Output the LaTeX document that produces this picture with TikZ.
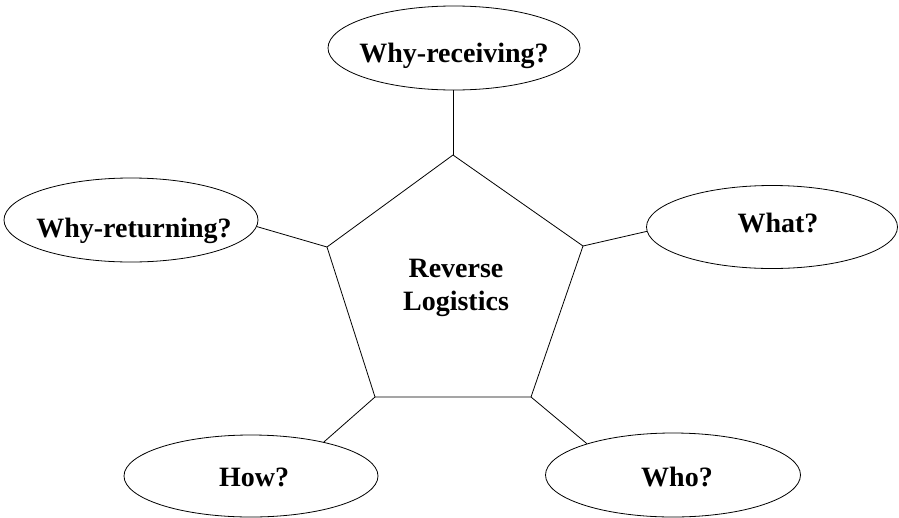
\documentclass[tikz,border=0pt]{standalone}
\usepackage{fontspec}
\setmainfont{Liberation Serif}
\usetikzlibrary{shapes.geometric}
\begin{document}
\begin{tikzpicture}[x=1pt,y=-1pt,
  bubble/.style={draw, ellipse, line width=0.8pt, inner sep=0pt},
  caption/.style={font=\fontsize{28}{33}\selectfont\bfseries, inner sep=0pt, anchor=base},
  link/.style={line width=0.8pt}]
  \useasboundingbox (0,0) rectangle (899,517);
  % pentagon corners
  \coordinate (pt) at (453,155);
  \coordinate (pl) at (327,247);
  \coordinate (pr) at (583,246);
  \coordinate (bl) at (375,397);
  \coordinate (br) at (531,397);
  \draw[link] (pt) -- (pr) -- (br) -- (bl) -- (pl) -- cycle;
  \node[caption, align=center] (center) at (456,310) {Reverse\\Logistics};
  % outer ellipses
  \node[bubble, minimum width=252pt, minimum height=84pt] (whyrec) at (454,48) {};
  \node[bubble, minimum width=254pt, minimum height=84pt] (whyret) at (131,220) {};
  \node[bubble, minimum width=251pt, minimum height=83pt] (what) at (772,227) {};
  \node[bubble, minimum width=254pt, minimum height=82pt] (how) at (251,476) {};
  \node[bubble, minimum width=255pt, minimum height=84pt] (who) at (673,475) {};
  % labels
  \node[caption] (twhyrec) at (454,62) {Why-receiving?};
  \node[caption] (twhyret) at (134,237) {Why-returning?};
  \node[caption] (twhat) at (778,232) {What?};
  \node[caption] (thow) at (254,486) {How?};
  \node[caption] (twho) at (677,486) {Who?};
  % connectors
  \draw[link] (pt) -- (pt |- whyrec.south);
  \draw[link] (pl) -- (whyret.-3);
  \draw[link] (pr) -- (what.182);
  \draw[link] (bl) -- (how.25);
  \draw[link] (br) -- (who.160);
\end{tikzpicture}
\end{document}
